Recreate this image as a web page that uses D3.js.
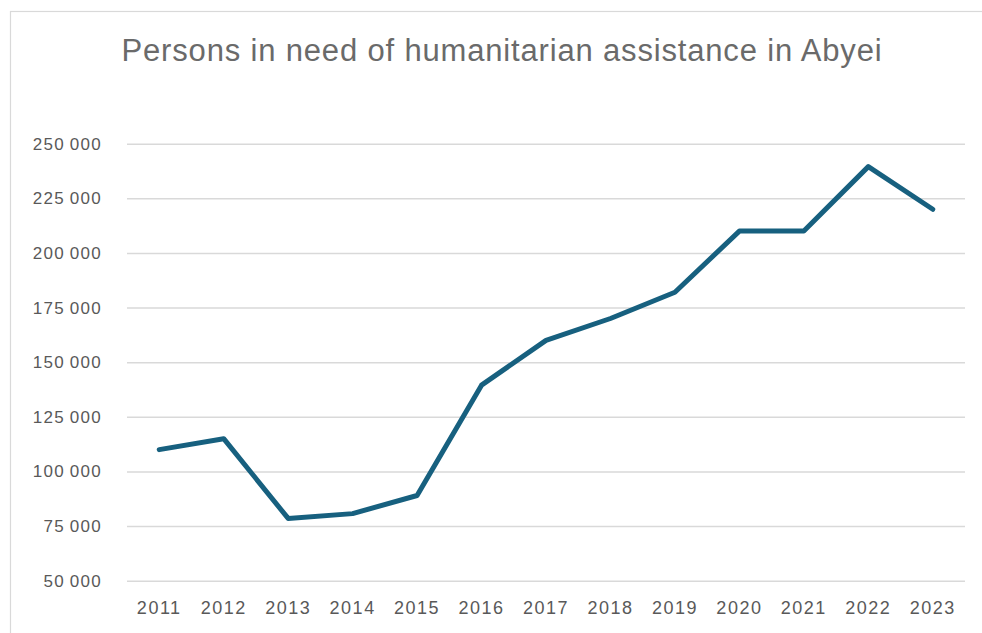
<!DOCTYPE html>
<html>
<head>
<meta charset="utf-8">
<script src="https://cdn.jsdelivr.net/npm/d3@7"></script>
<style>
  html, body { margin: 0; padding: 0; background: #fff; }
  svg { display: block; }
</style>
</head>
<body>
<svg id="chart" width="982" height="633"></svg>
<script>
const titleText = "Persons in need of humanitarian assistance in Abyei";
const years = ["2011","2012","2013","2014","2015","2016","2017","2018","2019","2020","2021","2022","2023"];
const persons = [110000, 115000, 78500, 80700, 89000, 139500, 160000, 170000, 182000, 210000, 210000, 239500, 220000];
const yTicks = [50000, 75000, 100000, 125000, 150000, 175000, 200000, 225000, 250000];

const svg = d3.select("#chart");
const plot = { left: 127, right: 965, top: 143.7, bottom: 580.7 };

// chart border
svg.append("rect")
  .attr("x", 10.5).attr("y", 11.5)
  .attr("width", 990).attr("height", 640)
  .attr("fill", "#fff")
  .attr("stroke", "#d9d9d9").attr("stroke-width", 1.2);

const x = d3.scaleBand().domain(years).range([plot.left, plot.right]).padding(0);
const y = d3.scaleLinear().domain([50000, 250000]).range([plot.bottom, plot.top]);

const fmt = v => d3.format(",")(v).replace(/,/g, "\u2009");

// gridlines + y labels
const yAxis = d3.axisLeft(y).tickValues(yTicks)
  .tickSize(-(plot.right - plot.left)).tickPadding(25).tickFormat(fmt);
const gy = svg.append("g").attr("transform", `translate(${plot.left},0)`).call(yAxis);
gy.select(".domain").remove();
gy.selectAll(".tick line").attr("stroke", "#d9d9d9").attr("stroke-width", 1.5);
gy.selectAll(".tick text")
  .attr("fill", "#595959")
  .style("font-family", "'Liberation Sans', Arial, sans-serif")
  .style("font-size", "17px")
  .style("letter-spacing", "1.3px");

// x axis labels
const xAxis = d3.axisBottom(x).tickSize(0).tickPadding(0);
const gx = svg.append("g").attr("transform", `translate(0,${plot.bottom})`).call(xAxis);
gx.select(".domain").remove();
gx.selectAll(".tick text")
  .attr("fill", "#595959")
  .attr("dy", "1.85em")
  .style("font-family", "'Liberation Sans', Arial, sans-serif")
  .style("font-size", "18px")
  .style("letter-spacing", "1.5px");

// line
const line = d3.line()
  .x((d, i) => x(years[i]) + x.bandwidth() / 2)
  .y(d => y(d));
svg.append("path")
  .datum(persons)
  .attr("d", line)
  .attr("fill", "none")
  .attr("stroke", "#17607f")
  .attr("stroke-width", 5)
  .attr("stroke-linejoin", "round")
  .attr("stroke-linecap", "round");

// title
const t = svg.append("text")
  .attr("x", 121.5).attr("y", 61)
  .attr("fill", "#6a6a6a")
  .style("font-family", "'Liberation Sans', Arial, sans-serif")
  .style("font-size", "31px")
  .text(titleText);
const target = 760;
const len = t.node().getComputedTextLength();
const n = titleText.length;
if (Math.abs(len - target) > 2) {
  t.style("letter-spacing", ((target - len) / (n - 1)).toFixed(2) + "px");
}
</script>
</body>
</html>
